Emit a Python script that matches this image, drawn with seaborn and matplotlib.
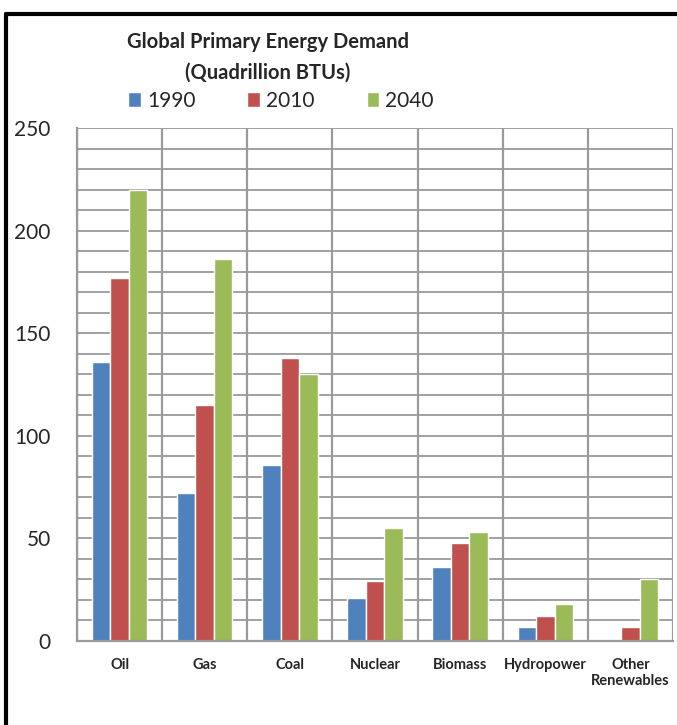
import pandas as pd
import numpy as np
import matplotlib.pyplot as plt
import seaborn as sns
from matplotlib.lines import Line2D
from matplotlib.ticker import MultipleLocator, FixedLocator

# data
categories = ["Oil", "Gas", "Coal", "Nuclear", "Biomass", "Hydropower", "Other\nRenewables"]
years = ["1990", "2010", "2040"]
demand_1990 = [136, 72, 86, 21, 36, 7, 0.5]
demand_2010 = [177, 115, 138, 29, 48, 12, 7]
demand_2040 = [220, 186, 130, 55, 53, 18, 30]
colors = ["#4F81BD", "#C0504D", "#9BBB59"]

df = pd.DataFrame({
    "Source": categories * 3,
    "Year": [y for y in years for _ in categories],
    "Demand": demand_1990 + demand_2010 + demand_2040,
})

sns.set_style("white")
plt.rcParams["font.family"] = ["Lato", "DejaVu Sans"]

fig = plt.figure(figsize=(6.77, 7.25), dpi=100)
ax = fig.add_axes([77 / 677, 1 - 641 / 725, 596 / 677, 513 / 725])

sns.barplot(data=df, x="Source", y="Demand", hue="Year", palette=colors,
            width=0.65, gap=0, ax=ax, legend=True, saturation=1)

ax.set_xlim(-0.5, 6.5)
ax.set_ylim(0, 250)
ax.set_xlabel("")
ax.set_ylabel("")

grid_col = "#9A9A9A"
ax.yaxis.set_major_locator(MultipleLocator(50))
ax.yaxis.set_minor_locator(MultipleLocator(10))
ax.xaxis.set_minor_locator(FixedLocator(np.arange(-0.5, 7, 1)))
ax.grid(which="both", axis="y", color=grid_col, lw=1.3)
ax.grid(which="minor", axis="x", color=grid_col, lw=1.6)
ax.grid(which="major", axis="x", visible=False)
ax.set_axisbelow(True)

ax.tick_params(axis="y", which="major", length=6, width=1.3, color=grid_col,
               direction="out", pad=13, labelsize=15)
ax.tick_params(axis="y", which="minor", length=0)
ax.tick_params(axis="x", which="major", length=0, pad=12, labelsize=10.5)
ax.tick_params(axis="x", which="minor", length=4, width=1.6, color=grid_col, direction="out")
for lbl in ax.get_xticklabels():
    lbl.set_fontweight("bold")

for side in ["top", "right"]:
    ax.spines[side].set_visible(False)
for side in ["left", "bottom"]:
    ax.spines[side].set_color(grid_col)
    ax.spines[side].set_linewidth(1.6)

handles, labels = ax.get_legend_handles_labels()
ax.legend(handles, labels, loc="center", bbox_to_anchor=(281 / 677, 1 - 101 / 725),
          bbox_transform=fig.transFigure, ncol=3, frameon=False, fontsize=15,
          handlelength=0.6, handleheight=0.7, handletextpad=0.3, columnspacing=2.5)

fig.text(268 / 677, 1 - 42 / 725, "Global Primary Energy Demand", ha="center",
         va="center", fontsize=14.5, fontweight="bold")
fig.text(268 / 677, 1 - 73 / 725, "(Quadrillion BTUs)", ha="center",
         va="center", fontsize=14.5, fontweight="bold")

# outer chart border (cropped on the right and bottom in the reference)
fig.add_artist(Line2D([6 / 677, 6 / 677], [0, 1 - 14 / 725], color="black", lw=3,
                      transform=fig.transFigure))
fig.add_artist(Line2D([6 / 677, 1], [1 - 14 / 725, 1 - 14 / 725], color="black", lw=3,
                      transform=fig.transFigure))

fig.savefig("out.png", dpi=100)
